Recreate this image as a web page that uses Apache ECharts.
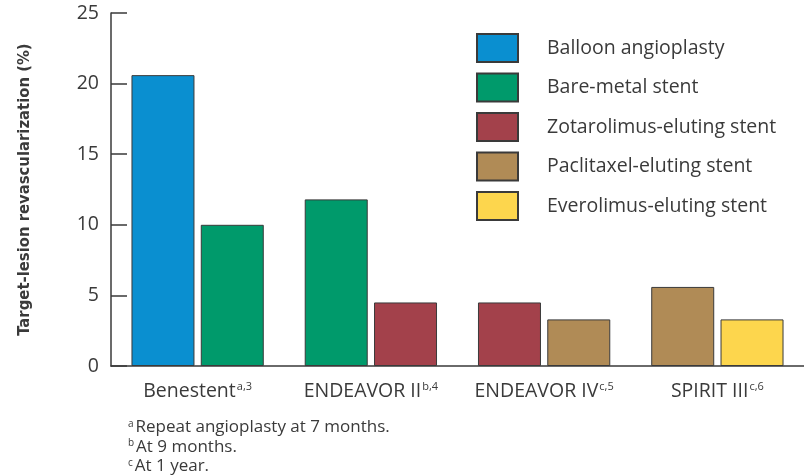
<!DOCTYPE html>
<html>
<head>
<meta charset="utf-8">
<script src="https://cdn.jsdelivr.net/npm/echarts@6/dist/echarts.min.js"></script>
<style>html,body{margin:0;padding:0;background:#fff;}#c{width:804px;height:476px;}</style>
</head>
<body>
<div id="c"></div>
<script>
var categories = ['Benestent', 'ENDEAVOR II', 'ENDEAVOR IV', 'SPIRIT III'];
var categorySup = ['a,3', 'b,4', 'c,5', 'c,6'];
var seriesNames = ['Balloon angioplasty', 'Bare-metal stent', 'Zotarolimus-eluting stent', 'Paclitaxel-eluting stent', 'Everolimus-eluting stent'];
var balloon = [20.6, null, null, null];
var bareMetal = [10.0, 11.8, null, null];
var zotarolimus = [null, 4.5, 4.5, null];
var paclitaxel = [null, null, 3.3, 5.6];
var everolimus = [null, null, null, 3.3];
var seriesValues = [balloon, bareMetal, zotarolimus, paclitaxel, everolimus];
var colors = ['#0a8fd0', '#009a6b', '#a3414b', '#b08b56', '#fdd64d'];
var yTicks = [0, 5, 10, 15, 20, 25];
var footnotes = [['a', 'Repeat angioplasty at 7 months.'], ['b', 'At 9 months.'], ['c', 'At 1 year.']];

var FONT = '"Open Sans", "Noto Sans", sans-serif';
var TXT = '#3a3a3a';

// assign each value to a left/right slot within its category
var slotData = seriesValues.map(function () { return [[null, null, null, null], [null, null, null, null]]; });
categories.forEach(function (c, ci) {
  var slot = 0;
  seriesValues.forEach(function (vals, si) {
    if (vals[ci] != null) { slotData[si][slot][ci] = vals[ci]; slot++; }
  });
});

var series = [];
seriesNames.forEach(function (name, si) {
  ['L', 'R'].forEach(function (st, k) {
    series.push({
      name: name,
      type: 'bar',
      stack: st,
      barWidth: 63,
      barGap: '10%',
      data: slotData[si][k],
      itemStyle: { color: colors[si], borderColor: '#3a3a3a', borderWidth: 1 },
      emphasis: { disabled: true }
    });
  });
});

var graphics = footnotes.map(function (f, i) {
  return {
    type: 'text', left: 128, top: 419 + i * 19.5,
    style: {
      text: '{s|' + f[0] + '}{t|' + f[1] + '}',
      rich: {
        s: { fontSize: 10, fontFamily: FONT, fill: TXT, verticalAlign: 'top', padding: [0, 2, 7, 0] },
        t: { fontSize: 17, fontFamily: FONT, fill: TXT }
      }
    }
  };
});

var chart = echarts.init(document.getElementById('c'), null, { renderer: 'canvas' });
chart.setOption({
  animation: false,
  backgroundColor: '#fff',
  grid: { left: 111, top: 13, width: 698, height: 353, containLabel: false },
  legend: {
    orient: 'vertical', left: 476, top: 33, padding: 0,
    itemWidth: 41, itemHeight: 28, itemGap: 9.5,
    icon: 'rect',
    data: seriesNames,
    selectedMode: false,
    textStyle: { fontSize: 19.5, lineHeight: 28, fontFamily: FONT, color: TXT, padding: [0, 0, 0, 24] }
  },
  xAxis: {
    type: 'category', data: categories,
    axisLine: { lineStyle: { color: '#3a3a3a', width: 1.5 } },
    axisTick: { inside: true, length: 8, lineStyle: { color: '#3a3a3a', width: 1.5 } },
    axisLabel: {
      margin: 15,
      formatter: function (v, i) { return '{n|' + v + '}{s|' + categorySup[i] + '}'; },
      rich: {
        n: { fontSize: 19.5, fontFamily: FONT, color: TXT },
        s: { fontSize: 11, fontFamily: FONT, color: TXT, verticalAlign: 'top', padding: [0, 0, 9, 1] }
      }
    }
  },
  yAxis: {
    type: 'value', min: 0, max: 25, interval: 5,
    name: 'Target-lesion revascularization (%)',
    nameLocation: 'middle', nameRotate: 90, nameGap: 78,
    nameTextStyle: { fontSize: 16.5, fontWeight: 'bold', fontFamily: '"Liberation Sans Narrow", "DejaVu Sans Condensed", sans-serif', color: TXT },
    axisLine: { show: true, lineStyle: { color: '#3a3a3a', width: 1.5 } },
    axisTick: { show: true, inside: true, length: 16, lineStyle: { color: '#3a3a3a', width: 1.5 } },
    splitLine: { show: false },
    axisLabel: {
      margin: 12, fontSize: 19.5, fontFamily: FONT, color: TXT,
      customValues: yTicks
    }
  },
  graphic: graphics,
  series: series
});
</script>
</body>
</html>
